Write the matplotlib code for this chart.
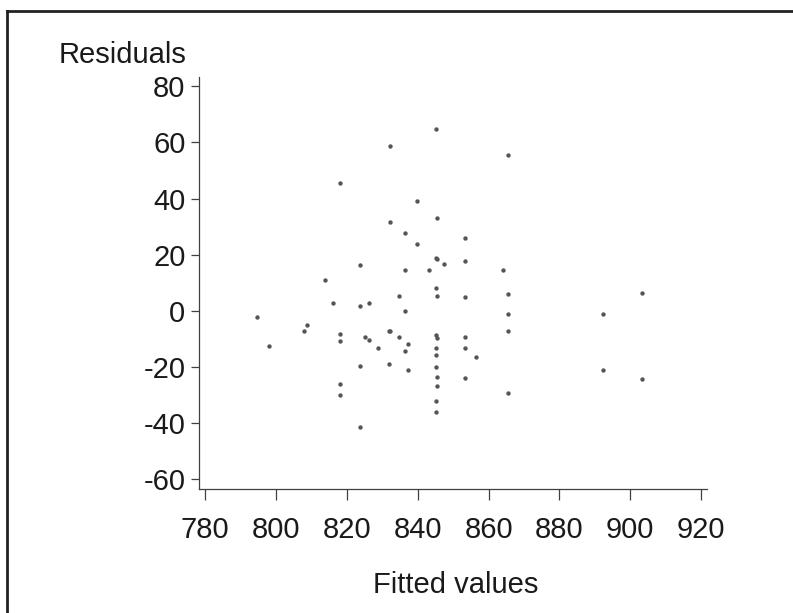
import matplotlib
matplotlib.use("Agg")
import matplotlib.pyplot as plt
from matplotlib.lines import Line2D

# residuals vs fitted values
fitted = [
    845.1, 832.1, 817.9, 839.9, 845.5, 832.1, 836.5, 839.9, 845.1, 845.5,
    847.3, 823.6, 836.5, 843.3, 813.9, 845.1, 865.5, 853.3, 853.3, 864.2,
    845.5, 834.7, 816.2, 826.1, 823.6, 836.5, 794.6, 808.8, 808.0, 818.0,
    818.0, 825.2, 826.1, 831.8, 832.1, 834.7, 828.7, 837.3, 836.5, 798.0,
    845.1, 845.5, 845.1, 845.1, 823.6, 831.8, 837.3, 845.1, 845.5, 845.5,
    818.0, 818.0, 845.1, 845.1, 823.6, 853.3, 865.5, 903.4, 865.5, 892.2,
    865.5, 853.3, 853.3, 856.4, 853.3, 892.2, 865.5, 903.4,
]
residuals = [
    64.7, 58.6, 45.7, 39.1, 33.2, 31.6, 27.8, 24.0, 19.0, 18.5,
    16.8, 16.4, 14.7, 14.7, 10.9, 8.2, 55.4, 26.1, 17.9, 14.7,
    5.5, 5.5, 2.7, 2.7, 1.7, 0.0, -2.1, -4.9, -7.1, -8.1,
    -10.8, -9.1, -10.2, -7.1, -7.1, -9.1, -13.1, -11.9, -14.1, -12.5,
    -8.7, -9.7, -13.1, -15.8, -19.6, -19.0, -21.1, -20.0, -23.4, -26.6,
    -26.1, -29.9, -32.0, -35.8, -41.3, 4.9, 5.9, 6.5, -1.1, -1.1,
    -7.1, -9.3, -13.1, -16.3, -23.8, -21.1, -29.3, -24.4,
]
x_ticks = [780, 800, 820, 840, 860, 880, 900, 920]
y_ticks = [-60, -40, -20, 0, 20, 40, 60, 80]

plt.rcParams['font.family'] = ['Liberation Sans', 'DejaVu Sans']
plt.rcParams['axes.unicode_minus'] = False

fig = plt.figure(figsize=(7.93, 6.13), dpi=100)
ax = fig.add_axes([0.2513, 0.2018, 0.6399, 0.6721])

ax.scatter(fitted, residuals, s=10, color='#555555', marker='o', linewidths=0)

ax.set_xlim(778.3, 921.6)
ax.set_ylim(-63.5, 83.2)
ax.set_xticks(x_ticks)
ax.set_yticks(y_ticks)

for side in ['top', 'right']:
    ax.spines[side].set_visible(False)
for side in ['left', 'bottom']:
    ax.spines[side].set_color('#404040')
    ax.spines[side].set_linewidth(0.9)

ax.tick_params(axis='y', direction='out', length=5.5, width=0.9,
               color='#404040', labelsize=21, pad=4.5, labelcolor='#1a1a1a')
ax.tick_params(axis='x', direction='out', length=8, width=0.9,
               color='#404040', labelsize=21, pad=11.5, labelcolor='#1a1a1a')

fig.text(59 / 793, 1 - 63.3 / 613, 'Residuals', fontsize=21,
         ha='left', va='baseline', color='#1a1a1a')
fig.text(455.5 / 793, 1 - 593 / 613, 'Fitted values', fontsize=21,
         ha='center', va='baseline', color='#1a1a1a')

# outer frame (only left and top edges are visible)
x0 = 6.7 / 793
y0 = 1 - 10.8 / 613
fig.add_artist(Line2D([x0, x0], [0, y0], transform=fig.transFigure,
                      color='#222222', linewidth=2.0))
fig.add_artist(Line2D([x0, 1], [y0, y0], transform=fig.transFigure,
                      color='#222222', linewidth=2.0))

fig.savefig('out.png', dpi=100)
